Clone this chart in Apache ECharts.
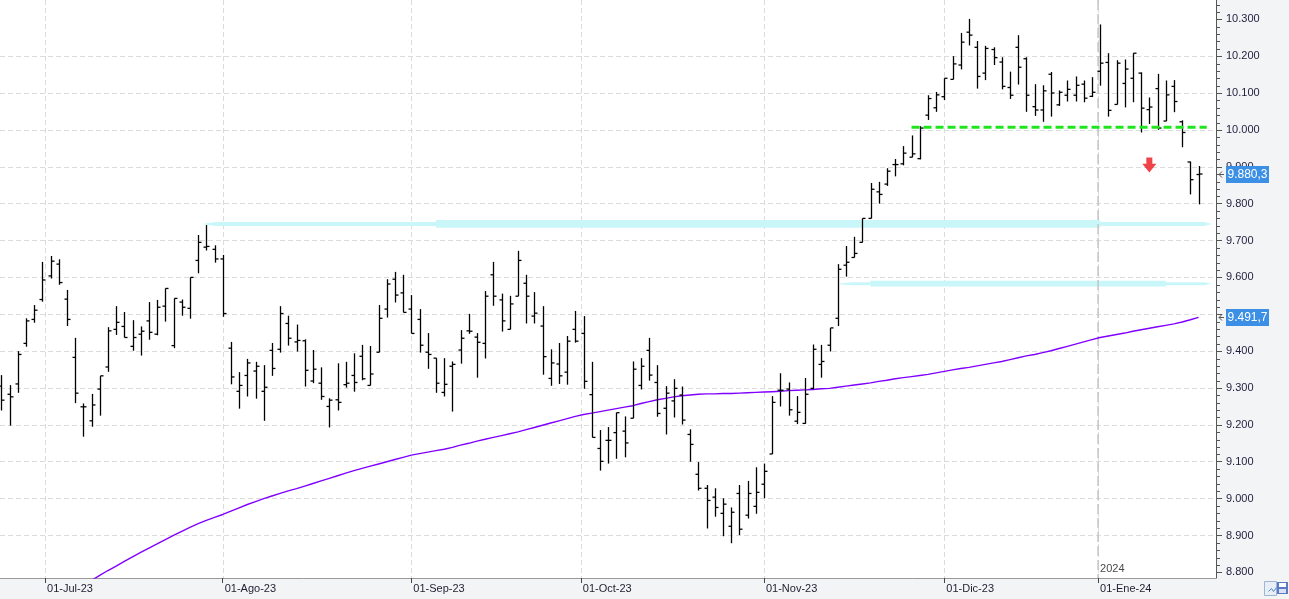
<!DOCTYPE html>
<html>
<head>
<meta charset="utf-8">
<script src="https://cdn.jsdelivr.net/npm/echarts@6/dist/echarts.min.js"></script>
<style>
html,body{margin:0;padding:0;background:#fff;}
#main{width:1289px;height:599px;}
</style>
</head>
<body>
<div id="main"></div>
<script>
// trading days per month
var days = {
    '2023-06': [23,26,27,28,29,30],
    '2023-07': [3,4,5,6,7,10,11,12,13,14,17,18,19,20,21,24,25,26,27,28,31],
    '2023-08': [1,2,3,4,7,8,9,10,11,14,15,16,17,18,21,22,23,24,25,28,29,30,31],
    '2023-09': [1,4,5,6,7,8,11,12,13,14,15,18,19,20,21,22,25,26,27,28,29],
    '2023-10': [2,3,4,5,6,9,10,11,12,13,16,17,18,19,20,23,24,25,26,27,30,31],
    '2023-11': [1,2,3,6,7,8,9,10,13,14,15,16,17,20,21,22,23,24,27,28,29,30],
    '2023-12': [1,4,5,6,7,8,11,12,13,14,15,18,19,20,21,22,27,28,29],
    '2024-01': [2,3,4,5,8,9,10,11,12,15,16,17,18]
};

var open = [9305,9283,9311,9421,9486,9540,9604,9636,9541,9383,9249,9211,9297,9357,9459,9467,9413,9446,9482,9446,
    9522,9415,9533,9516,9646,9682,9676,9650,9408,9291,9334,9346,9291,9402,9405,9475,9425,9428,9319,9313,
    9250,9268,9309,9334,9386,9307,9397,9514,9595,9558,9514,9486,9397,9381,9288,9359,9403,9455,9438,9421,
    9607,9539,9459,9549,9584,9495,9468,9326,9365,9343,9459,9448,9282,9136,9158,9179,9183,9218,9307,9402,
    9315,9245,9265,9281,9174,9066,9028,9004,8960,8925,9014,8955,8979,9039,9121,9294,9297,9210,9204,9299,
    9364,9416,9489,9633,9654,9695,9760,9832,9853,9906,9908,9926,9922,10040,10060,10090,10137,10176,10265,10224,
    10154,10218,10184,10115,10224,10193,10063,10054,10151,10068,10094,10094,10124,10091,10159,10183,10069,10126,10140,10154,
    10055,10112,10024,10118,10022,9913,9879];
var high = [9335,9308,9400,9489,9525,9642,9658,9649,9566,9436,9258,9284,9333,9465,9522,9506,9484,9467,9533,9539,
    9570,9543,9540,9600,9715,9742,9687,9661,9425,9343,9379,9371,9362,9422,9522,9496,9472,9432,9403,9356,
    9272,9367,9371,9394,9417,9414,9525,9595,9615,9607,9552,9514,9449,9381,9381,9372,9457,9501,9449,9563,
    9642,9556,9550,9672,9607,9560,9522,9405,9422,9441,9509,9495,9371,9186,9194,9233,9223,9372,9381,9436,
    9362,9305,9324,9304,9188,9099,9037,9028,9001,8976,9037,9048,9085,9095,9278,9340,9315,9278,9327,9418,
    9417,9463,9636,9685,9710,9760,9856,9859,9896,9921,9956,9985,10010,10094,10103,10140,10200,10263,10301,10241,
    10228,10224,10197,10158,10257,10197,10124,10121,10157,10107,10134,10145,10134,10143,10286,10208,10189,10191,10208,10156,
    10088,10152,10134,10135,10026,9914,9902];
var low = [9239,9198,9287,9412,9477,9534,9597,9580,9468,9259,9168,9195,9225,9344,9444,9437,9401,9388,9431,9443,
    9480,9408,9496,9488,9611,9673,9640,9493,9310,9244,9277,9271,9211,9333,9396,9415,9399,9304,9313,9268,
    9193,9239,9301,9290,9321,9307,9397,9491,9532,9505,9448,9396,9352,9287,9277,9236,9366,9447,9328,9380,
    9523,9453,9459,9549,9475,9475,9336,9306,9311,9309,9423,9298,9166,9076,9095,9108,9112,9218,9296,9320,
    9222,9174,9220,9201,9100,9022,8919,8951,8898,8879,8901,8946,8959,9001,9121,9250,9225,9202,9203,9296,
    9328,9399,9468,9602,9654,9695,9760,9800,9848,9874,9904,9926,9920,10027,10049,10081,10137,10164,10229,10112,
    10135,10176,10110,10084,10123,10049,10038,10022,10036,10065,10077,10077,10075,10089,10120,10036,10069,10061,10075,9993,
    10016,10000,10024,10048,9953,9825,9798];
var close = [9267,9276,9391,9482,9511,9593,9644,9586,9486,9286,9249,9254,9333,9455,9478,9437,9437,9454,9451,9519,
    9570,9543,9519,9600,9695,9684,9650,9502,9330,9307,9368,9359,9302,9353,9502,9435,9429,9348,9351,9277,
    9267,9261,9313,9315,9325,9338,9489,9582,9552,9505,9448,9416,9391,9313,9310,9364,9435,9454,9424,9549,
    9549,9482,9528,9646,9549,9503,9385,9368,9333,9427,9427,9318,9166,9101,9158,9233,9151,9351,9359,9335,
    9231,9286,9299,9213,9147,9028,8995,8976,8985,8963,8917,9014,9017,9074,9261,9294,9241,9234,9283,9405,
    9372,9463,9622,9641,9665,9760,9839,9825,9888,9906,9937,9935,10005,10085,10095,10140,10179,10238,10257,10145,
    10221,10196,10118,10094,10170,10094,10054,10106,10100,10102,10110,10121,10086,10102,10181,10053,10181,10165,10208,10059,
    10062,10005,10095,10077,9993,9865,9880.3];
// moving average (only the visible part)
var ma = [null,null,null,null,null,null,null,null,null,null,
    8762,8778,8792,8805,8817,8830,8842,8854,8866,8877,
    8889,8900,8911,8922,8932,8941,8949,8957,8966,8975,
    8984,8992,9000,9007,9014,9021,9027,9034,9041,9048,
    9055,9062,9069,9076,9082,9088,9094,9100,9106,9112,
    9118,9122,9126,9130,9134,9139,9145,9150,9156,9161,
    9166,9171,9176,9181,9187,9193,9199,9205,9211,9217,
    9223,9228,9232,9236,9240,9244,9248,9252,9258,9263,
    9268,9272,9276,9279,9281,9283,9284,9284,9285,9285,
    9286,9287,9288,9289,9290,9291,9293,9294,9295,9296,
    9298,9299,9302,9305,9308,9311,9314,9318,9321,9325,
    9328,9331,9334,9337,9341,9345,9349,9353,9356,9360,
    9364,9368,9372,9377,9382,9387,9391,9396,9401,9407,
    9413,9419,9425,9431,9437,9441,9445,9449,9454,9458,
    9462,9466,9470,9474,9479,9485,9491.7];

var monthDates = ['2023-07-01','2023-08-01','2023-09-01','2023-10-01','2023-11-01','2023-12-01','2024-01-01'];
var monthLabels = ['01-Jul-23','01-Ago-23','01-Sep-23','01-Oct-23','01-Nov-23','01-Dic-23','01-Ene-24'];
var yearDate = '2024-01-01', yearLabel = '2024';
var yTicks = [8800,8900,9000,9100,9200,9300,9400,9500,9600,9700,9800,9900,10000,10100,10200,10300];

var supportLevel = 10007, supportFrom = '2023-11-27';
var band1Level = 9745, band2Level = 9583;
var arrowDate = '2024-01-10', arrowValue = 9905;

// ---- build helpers ----
var dates = [];
Object.keys(days).forEach(function (m) {
    days[m].forEach(function (d) { dates.push(m + '-' + (d < 10 ? '0' + d : d)); });
});
var last = dates.length - 1;
function t(s) { return Date.parse(s + 'T00:00:00Z'); }
function dateIdx(s) {
    var ts = t(s);
    for (var i = 0; i < dates.length; i++) {
        var di = t(dates[i]);
        if (di === ts) return i;
        if (di > ts) {
            var p = t(dates[i - 1]);
            return i - 1 + (ts - p) / (di - p);
        }
    }
    return last;
}
var monthIdx = monthDates.map(dateIdx);
var yearIdx = dateIdx(yearDate);
var xMin = -0.16, xMax = last + 2.13;
var yMin = 8784.7, yMax = 10352.3;
var yMinor = [];
for (var v = 8800; v <= 10340; v += 20) if (v % 100) yMinor.push([v]);

function fmtNum(v) {
    v = Math.floor(v);
    var th = Math.floor(v / 1000), r = v % 1000;
    return th + '.' + ('00' + r).slice(-3);
}
function fmtTag(v) {
    return fmtNum(v) + ',' + Math.round((v - Math.floor(v)) * 10);
}

var ohlc = dates.map(function (d, i) { return [i, open[i], high[i], low[i], close[i]]; });
var maData = [];
ma.forEach(function (v, i) { if (v != null) maData.push([i, v]); });

var FONT = 'Liberation Sans, Arial, sans-serif';

function renderOHLC(params, api) {
    var i = api.value(0);
    var h = api.coord([i, api.value(2)]);
    var l = api.coord([i, api.value(3)]);
    var o = api.coord([i, api.value(1)]);
    var c = api.coord([i, api.value(4)]);
    var x = Math.round(h[0]) + 0.5;
    var st = { stroke: '#000', lineWidth: 1.3 };
    return {
        type: 'group',
        children: [
            { type: 'line', shape: { x1: x, y1: h[1], x2: x, y2: l[1] }, style: st },
            { type: 'line', shape: { x1: x - 3, y1: o[1], x2: x, y2: o[1] }, style: st },
            { type: 'line', shape: { x1: x, y1: c[1], x2: x + 3, y2: c[1] }, style: st }
        ]
    };
}

// vertical month grid lines
function renderVGrid(params, api) {
    var top = api.coord([api.value(0), yMax]);
    var bot = api.coord([api.value(0), yMin]);
    var x = Math.round(top[0]) + 0.5;
    return { type: 'line', shape: { x1: x, y1: top[1], x2: x, y2: bot[1] }, style: { stroke: '#dcdcdc', lineWidth: 1, lineDash: [5, 3] } };
}

// highlighted bands: thin full length + thick middle part
var bands = [
    [dateIdx('2023-07-28') - 0.2, xMax - 0.5, band1Level, 2, dateIdx('2023-09-06'), dateIdx('2024-01-02'), 3.8],
    [dateIdx('2023-11-14') + 0.3, xMax - 0.5, band2Level, 1.5, dateIdx('2023-11-20'), dateIdx('2024-01-12'), 2.8]
];
function renderBand(params, api) {
    var a = api.coord([api.value(0), api.value(2)]);
    var b = api.coord([api.value(1), api.value(2)]);
    var m1 = api.coord([api.value(4), api.value(2)]);
    var m2 = api.coord([api.value(5), api.value(2)]);
    var h1 = api.value(3), h2 = api.value(6);
    var fill = { fill: '#c8f6f9' };
    return {
        type: 'group',
        children: [
            { type: 'polygon', shape: { points: [[a[0], a[1] - 0.5], [a[0] + 12, a[1] - h1], [b[0] - 8, b[1] - h1], [b[0], b[1]], [b[0] - 8, b[1] + h1], [a[0] + 12, a[1] + h1], [a[0], a[1] + 0.5]] }, style: fill },
            { type: 'rect', shape: { x: m1[0], y: m1[1] - h2, width: m2[0] - m1[0], height: h2 * 2 }, style: fill }
        ]
    };
}

function renderYear(params, api) {
    var top = api.coord([api.value(0), yMax]);
    var bot = api.coord([api.value(0), yMin]);
    return {
        type: 'group',
        children: [
            { type: 'line', shape: { x1: top[0], y1: top[1], x2: bot[0], y2: bot[1] }, style: { stroke: '#c4c4c4', lineWidth: 1.5, lineDash: [10, 4] } },
            { type: 'text', x: bot[0] + 2, y: bot[1] - 9, style: { text: yearLabel, fill: '#4a4a4a', font: '11px ' + FONT, verticalAlign: 'middle' } }
        ]
    };
}

// minor ticks on the price axis (every 20 points)
function renderMinor(params, api) {
    var p = api.coord([xMax, api.value(0)]);
    var y = Math.round(p[1]) + 0.5;
    return { type: 'line', shape: { x1: p[0], y1: y, x2: p[0] + 4, y2: y }, style: { stroke: '#555', lineWidth: 1 } };
}

function renderTag(params, api) {
    var p = api.coord([xMax, api.value(1)]);
    var x = p[0], y = Math.round(p[1]) + 0.5;
    return {
        type: 'group',
        children: [
            { type: 'polyline', shape: { points: [[x + 6, y - 3], [x + 3, y], [x + 6, y + 3]] }, style: { stroke: '#555', fill: null, lineWidth: 1 } },
            { type: 'line', shape: { x1: x + 3, y1: y, x2: x + 8, y2: y }, style: { stroke: '#555', lineWidth: 1 } },
            { type: 'rect', shape: { x: x + 10, y: y - 8.5, width: 43, height: 17 }, style: { fill: '#3b8fe4' } },
            { type: 'text', x: x + 31.5, y: y, style: { text: fmtTag(api.value(1)), fill: '#fff', font: '12px ' + FONT, align: 'center', verticalAlign: 'middle' } }
        ]
    };
}

var chart = echarts.init(document.getElementById('main'));
var option = {
    animation: false,
    backgroundColor: '#ffffff',
    grid: { left: 0, right: 73, top: 0, bottom: 21 },
    graphic: [
        { type: 'rect', left: 1216, top: 0, shape: { width: 73, height: 599 }, style: { fill: '#f3f4f6' }, z: -10 },
        { type: 'rect', left: 0, top: 578, shape: { width: 1216, height: 21 }, style: { fill: '#f3f4f6' }, z: -10 },
        // small toolbar icons at bottom right
        { type: 'rect', left: 1264, top: 581, shape: { width: 12, height: 14 }, style: { fill: '#e8eef6', stroke: '#9fb6d2', lineWidth: 1 }, z: 20 },
        { type: 'polyline', left: 1266, top: 585, shape: { points: [[0, 5], [3, 2], [5, 5], [8, 1]] }, style: { stroke: '#4f86c6', fill: null, lineWidth: 1 }, z: 21 },
        { type: 'rect', left: 1277, top: 582, shape: { width: 11, height: 12 }, style: { fill: '#5b79c7' }, z: 22 },
        { type: 'rect', left: 1279, top: 583, shape: { width: 7, height: 4 }, style: { fill: '#ffffff' }, z: 23 },
        { type: 'rect', left: 1279, top: 589, shape: { width: 7, height: 4 }, style: { fill: '#d9e2f5' }, z: 23 }
    ],
    xAxis: {
        type: 'value',
        min: xMin,
        max: xMax,
        axisLine: { show: true, onZero: false, lineStyle: { color: '#9a9a9a' } },
        axisTick: { show: true, customValues: monthIdx, length: 5, lineStyle: { color: '#444' } },
        axisLabel: {
            customValues: monthIdx,
            align: 'left',
            margin: 5,
            padding: [0, 0, 0, 2],
            color: '#1e1e30',
            fontSize: 11,
            fontFamily: FONT,
            formatter: function (v) {
                for (var k = 0; k < monthIdx.length; k++) if (Math.abs(monthIdx[k] - v) < 1e-6) return monthLabels[k];
                return '';
            }
        },
        splitLine: { show: false }
    },
    yAxis: {
        type: 'value',
        position: 'right',
        min: yMin,
        max: yMax,
        axisLine: { show: true, onZero: false, lineStyle: { color: '#555' } },
        axisTick: { show: true, customValues: yTicks, length: 6, lineStyle: { color: '#555' } },
        axisLabel: {
            customValues: yTicks,
            margin: 10,
            color: '#1e1e3c',
            fontSize: 11,
            fontFamily: FONT,
            formatter: fmtNum
        },
        splitLine: { show: true, showMinLine: false, showMaxLine: false, lineStyle: { color: '#dcdcdc', type: [5, 3] } }
    },
    series: [
        {
            name: 'vgrid', type: 'custom', renderItem: renderVGrid, z: 0, silent: true,
            data: monthIdx.map(function (m) { return [m]; }), encode: { x: 0 }
        },
        {
            name: 'bands', type: 'custom', renderItem: renderBand, data: bands, z: 1, silent: true
        },
        {
            name: 'year', type: 'custom', renderItem: renderYear, data: [[yearIdx]], z: 1, silent: true
        },
        {
            name: 'MA', type: 'line', data: maData, showSymbol: false, z: 3,
            lineStyle: { color: '#8000ff', width: 1.4 }
        },
        {
            name: 'OHLC', type: 'custom', renderItem: renderOHLC, data: ohlc, z: 4,
            encode: { x: 0, y: [1, 2, 3, 4] }
        },
        {
            name: 'support', type: 'line', showSymbol: false, z: 5,
            data: [[dateIdx(supportFrom), supportLevel], [last + 1, supportLevel]],
            lineStyle: { color: '#1ee61e', width: 3, type: [8, 4] }
        },
        {
            name: 'arrow', type: 'scatter', z: 6,
            data: [[dateIdx(arrowDate), arrowValue]],
            symbol: 'path://M4,0 L10,0 L10,6 L14,6 L7,14 L0,6 L4,6 Z',
            symbolSize: [14, 15],
            itemStyle: { color: '#e8141c' }
        },
        {
            name: 'minorTicks', type: 'custom', renderItem: renderMinor, z: 9, clip: false, silent: true,
            data: yMinor, encode: { y: 0 }
        },
        {
            name: 'tags', type: 'custom', renderItem: renderTag, z: 10, clip: false, silent: true,
            data: [[last, close[last]], [last, ma[last]]]
        }
    ]
};
chart.setOption(option);
window.addEventListener('resize', function () { chart.resize(); });
</script>
</body>
</html>
